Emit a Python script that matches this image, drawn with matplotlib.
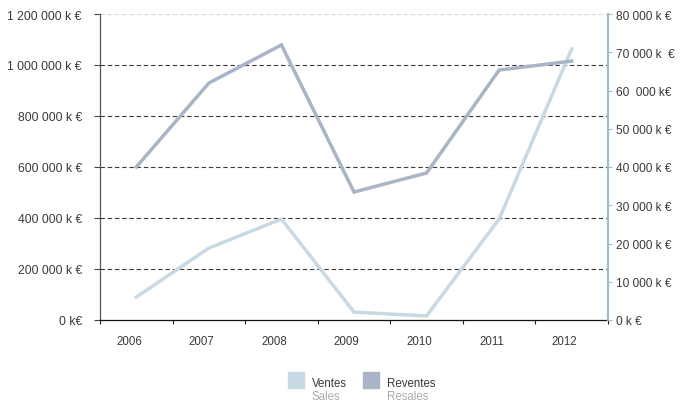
import matplotlib
matplotlib.use("Agg")
import matplotlib.pyplot as plt
from matplotlib.patches import Rectangle
import numpy as np

plt.rcParams['font.family'] = ['Liberation Sans', 'DejaVu Sans']

# data (k€)
years = ['2006', '2007', '2008', '2009', '2010', '2011', '2012']
ventes = [90000, 282000, 396000, 31000, 16000, 396000, 1063000]
reventes = [40000, 61950, 71900, 33460, 38430, 65350, 67700]

left_ticks = [0, 200000, 400000, 600000, 800000, 1000000, 1200000]
left_labels = ['0 k€', '200 000 k €', '400 000 k €', '600 000 k €', '800 000 k €',
               '1 000 000 k €', '1 200 000 k €']
right_ticks = [0, 10000, 20000, 30000, 40000, 50000, 60000, 70000, 80000]
right_labels = ['0 k €', '10 000 k €', '20 000 k €', '30 000 k €', '40 000 k €',
                '50 000 k €', '60  000 k€', '70 000 k  €', '80 000 k €']

c_ventes = '#c9d9e3'
c_reventes = '#a9b4c6'
c_right = '#9fbccb'
c_text = '#3a3a3a'

fig = plt.figure(figsize=(6.8, 4.02), dpi=100)
ax = fig.add_axes([100 / 680, 1 - 321 / 402, 508 / 680, 306 / 402])
ax2 = ax.twinx()

x = np.arange(len(years)) + 0.5
ax.plot(x, ventes, color=c_ventes, lw=2.5, solid_joinstyle='miter', zorder=3)
ax2.plot(x, reventes, color=c_reventes, lw=2.5, solid_joinstyle='miter', zorder=3)

ax.set_xlim(0, 7)
ax.set_ylim(0, 1200000)
ax2.set_ylim(0, 80000)

# grid
for v in left_ticks[1:-1]:
    ax.axhline(v, color='#3a3a3a', lw=0.8, ls=(0, (4, 2.5)), zorder=1)
ax.axhline(left_ticks[-1], color='#d8d8d8', lw=0.8, ls=(0, (4, 2.5)), zorder=1)

# x axis
ax.set_xticks(np.arange(len(years) + 1))
ax.set_xticklabels([])
ax.set_xticks(x - 0.1, minor=True)
ax.set_xticklabels(years, minor=True)
ax.tick_params(axis='x', which='major', direction='out', length=3, width=0.8, color='#222222')
ax.tick_params(axis='x', which='minor', length=0, pad=11, labelsize=8.3, labelcolor=c_text)

# left axis
ax.set_yticks(left_ticks)
ax.set_yticklabels(left_labels)
ax.tick_params(axis='y', direction='out', length=4, width=0.8, color='#444444',
               labelsize=8.8, labelcolor=c_text, pad=9)

# right axis
ax2.set_yticks(right_ticks)
ax2.set_yticklabels(right_labels)
ax2.tick_params(axis='y', direction='out', length=3, width=0.8, color=c_right,
                labelsize=8.6, labelcolor=c_text, pad=3)

for a in (ax, ax2):
    a.spines['top'].set_visible(False)
ax.spines['right'].set_visible(False)
ax2.spines['left'].set_visible(False)
ax2.spines['bottom'].set_visible(False)
ax.spines['left'].set_color('#555555')
ax.spines['left'].set_linewidth(0.9)
ax.spines['bottom'].set_color('#111111')
ax.spines['bottom'].set_linewidth(0.9)
ax2.spines['right'].set_color(c_right)
ax2.spines['right'].set_linewidth(1.6)

# legend
for x0, col, name, sub in [(288, c_ventes, 'Ventes', 'Sales'),
                           (363, c_reventes, 'Reventes', 'Resales')]:
    fig.patches.append(Rectangle((x0 / 680, 1 - 389 / 402), 16 / 680, 16 / 402,
                                 transform=fig.transFigure, color=col))
    fig.text((x0 + 24) / 680, 1 - 384 / 402, name, fontsize=8.3, color=c_text, va='center')
    fig.text((x0 + 24) / 680, 1 - 397 / 402, sub, fontsize=8.3, color='#aaaaaa', va='center')

fig.savefig('out.png', dpi=100)
